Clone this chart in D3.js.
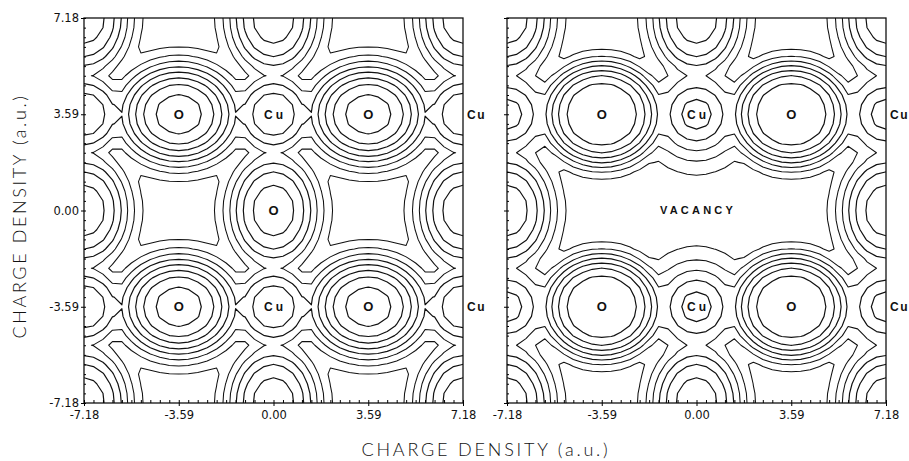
<!DOCTYPE html>
<html>
<head>
<meta charset="utf-8">
<script src="https://cdn.jsdelivr.net/npm/d3@7"></script>
<style>
  body { margin: 0; background: #fff; }
  text { fill: #111; }
</style>
</head>
<body>
<svg id="chart" width="909" height="461"></svg>
<script>
// axis values (a.u.)
const edge = 7.18;
const tickValues = [-7.18, -3.59, 0, 3.59, 7.18];
const tickLabels = ["-7.18", "-3.59", "0.00", "3.59", "7.18"];
const gridStep = 0.359; // mesh of the density map, same as the minor ticks

// atom sites inside one periodic cell
const oxygenA = [[-3.59, -3.59], [-3.59, 3.59], [3.59, -3.59], [3.59, 3.59]];
const oxygenB = [[-7.18, -7.18], [-7.18, 0], [0, -7.18], [0, 0]];
const copper = [[-7.18, -3.59], [-7.18, 3.59], [0, -3.59], [0, 3.59]];
const vacancySite = [0, 0];

// peak [height, radius x, radius y, sharpness] per site kind
const peaksPerfect = { oA: [8.44, 2.35, 1.95, 3], oB: [6.5, 1.8, 2.25, 3], cu: [5.65, 1.61, 1.61, 3] };
const peaksVacancy = { oA: [7.85, 2.3, 2.0, 4], oB: [6.5, 1.8, 2.25, 3], cu: [5.6, 1.72, 1.72, 2] };

// contour levels
const levels = [1, 2, 3, 4, 5, 6, 7, 8];

// labels [text, x, y]
const labelsPerfect = [["O", -3.59, 3.59], ["Cu", 0, 3.59], ["O", 3.59, 3.59], ["O", 0, 0],
  ["O", -3.59, -3.59], ["Cu", 0, -3.59], ["O", 3.59, -3.59]];
const labelsVacancy = [["O", -3.59, 3.59], ["Cu", 0, 3.59], ["O", 3.59, 3.59], ["VACANCY", 0, 0],
  ["O", -3.59, -3.59], ["Cu", 0, -3.59], ["O", 3.59, -3.59]];
const edgeLabels = [["Cu", 7.18, 3.59], ["Cu", 7.18, -3.59]];

const svg = d3.select("#chart");
const panelW = 379, panelH = 385, panelTop = 18;
const panels = [
  { x0: 84, peaks: peaksPerfect, labels: labelsPerfect, vacancy: false, yLabels: true },
  { x0: 507, peaks: peaksVacancy, labels: labelsVacancy, vacancy: true, yLabels: false }
];

const pad = 2;
const n = Math.round(2 * edge / gridStep) + 1 + 2 * pad;
const period = 2 * edge;
const blend = 5; // soft maximum between neighbouring atoms

function density(u, v, p, vac) {
  let s = 0;
  const add = (sites, [a, rx, ry, k]) => {
    for (const [x, y] of sites) {
      if (vac && x === vacancySite[0] && y === vacancySite[1]) continue;
      for (const ox of [-period, 0, period]) for (const oy of [-period, 0, period]) {
        const q = Math.hypot((u - x - ox) / rx, (v - y - oy) / ry);
        s += Math.pow(a * Math.exp(-Math.pow(q, k)), blend);
      }
    }
  };
  add(oxygenA, p.oA);
  add(oxygenB, p.oB);
  add(copper, p.cu);
  return Math.pow(s, 1 / blend);
}

const fontTick = "'DejaVu Sans', Verdana, sans-serif";
const fontAtom = "Arial, 'Liberation Sans', sans-serif";

panels.forEach((pn, i) => {
  const x = d3.scaleLinear().domain([-edge, edge]).range([pn.x0, pn.x0 + panelW]);
  const y = d3.scaleLinear().domain([-edge, edge]).range([panelTop + panelH, panelTop]);

  const values = new Array(n * n);
  for (let j = 0; j < n; j++) for (let k = 0; k < n; k++) {
    values[j * n + k] = density(-edge + (k - pad) * gridStep, -edge + (j - pad) * gridStep, pn.peaks, pn.vacancy);
  }
  const toU = c => -edge + (c - 0.5 - pad) * gridStep;
  const proj = d3.geoTransform({
    point(a, b) { this.stream.point(x(toU(a)), y(toU(b))); }
  });
  const path = d3.geoPath(proj);
  const contours = d3.contours().size([n, n]).thresholds(levels)(values);

  const clipId = "clip" + i;
  svg.append("clipPath").attr("id", clipId)
    .append("rect").attr("x", pn.x0).attr("y", panelTop).attr("width", panelW).attr("height", panelH);

  svg.append("g").attr("clip-path", `url(#${clipId})`)
    .selectAll("path").data(contours).join("path")
    .attr("d", path)
    .attr("fill", "none")
    .attr("stroke", "#111")
    .attr("stroke-width", (d, k) => k >= 3 ? 1.2 : 1.05)
    .attr("stroke-linejoin", "round");

  // frame
  svg.append("rect").attr("x", pn.x0).attr("y", panelTop).attr("width", panelW).attr("height", panelH)
    .attr("fill", "none").attr("stroke", "#111").attr("stroke-width", 1.3);

  const minor = d3.range(0, 41).map(k => -edge + k * gridStep);
  // bottom axis: minor ticks inward, majors outward with labels
  svg.append("g").attr("transform", `translate(0,${panelTop + panelH})`)
    .call(d3.axisBottom(x).tickValues(minor).tickSize(-3).tickFormat(""))
    .call(g => g.select(".domain").remove());
  svg.append("g").attr("transform", `translate(0,${panelTop + panelH})`)
    .call(d3.axisBottom(x).tickValues(tickValues).tickSize(3).tickPadding(5)
      .tickFormat((d, k) => tickLabels[k]))
    .call(g => g.select(".domain").remove())
    .call(g => g.selectAll("text").attr("font-family", fontTick).attr("font-size", 11.5));
  // left axis
  svg.append("g").attr("transform", `translate(${pn.x0},0)`)
    .call(d3.axisLeft(y).tickValues(minor).tickSize(-2).tickFormat(""))
    .call(g => g.select(".domain").remove());
  svg.append("g").attr("transform", `translate(${pn.x0},0)`)
    .call(d3.axisLeft(y).tickValues(tickValues).tickSize(3).tickPadding(2)
      .tickFormat((d, k) => pn.yLabels ? tickLabels[k] : ""))
    .call(g => g.select(".domain").remove())
    .call(g => g.selectAll("text").attr("font-family", fontTick).attr("font-size", 11.5));

  // atom labels
  svg.append("g").selectAll("text").data(pn.labels).join("text")
    .attr("x", d => x(d[1]) + (d[0] === "O" ? 0 : 1.5))
    .attr("y", d => y(d[2]))
    .attr("dy", "0.36em")
    .attr("text-anchor", "middle")
    .attr("font-family", fontAtom)
    .attr("font-weight", "bold")
    .attr("font-size", d => d[0] === "O" ? 13 : d[0] === "Cu" ? 12 : 11)
    .attr("letter-spacing", d => d[0] === "O" ? 0 : d[0] === "Cu" ? 3 : 3.2)
    .text(d => d[0]);
  svg.append("g").selectAll("text").data(edgeLabels).join("text")
    .attr("x", d => x(d[1]) + 4)
    .attr("y", d => y(d[2]))
    .attr("dy", "0.36em")
    .attr("font-family", fontAtom)
    .attr("font-weight", "bold")
    .attr("font-size", 12)
    .attr("letter-spacing", 1.5)
    .text(d => d[0]);
});

// axis titles
const titleFont = "Lato, 'DejaVu Sans', sans-serif";
svg.append("text")
  .attr("x", 486).attr("y", 456)
  .attr("text-anchor", "middle")
  .attr("font-family", titleFont).attr("font-weight", 300)
  .attr("font-size", 18).attr("letter-spacing", 2.8)
  .text("CHARGE DENSITY (a.u.)");
svg.append("text")
  .attr("transform", "translate(26,216) rotate(-90)")
  .attr("text-anchor", "middle")
  .attr("font-family", titleFont).attr("font-weight", 300)
  .attr("font-size", 18).attr("letter-spacing", 2.6)
  .text("CHARGE DENSITY (a.u.)");
</script>
</body>
</html>
